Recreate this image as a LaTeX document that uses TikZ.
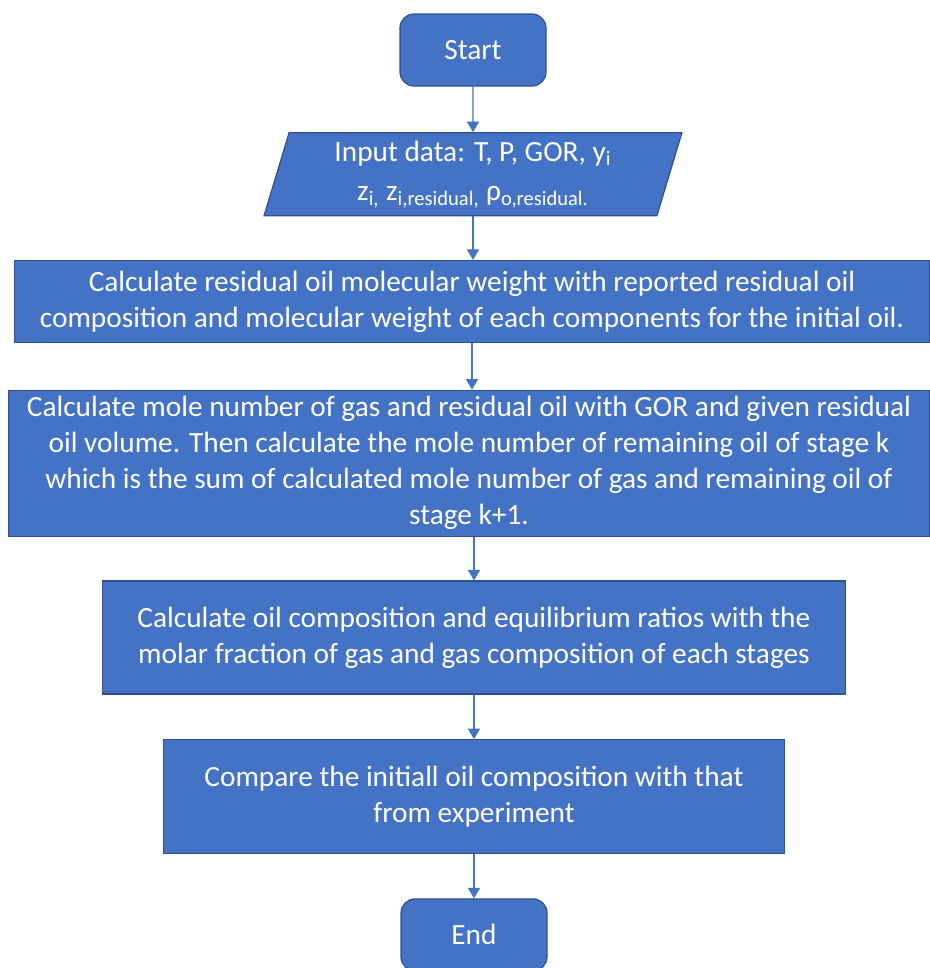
\documentclass[tikz,border=0pt]{standalone}
\usepackage{fontspec}
\setmainfont{Carlito}
\usepackage{tikz}
\usetikzlibrary{arrows.meta, positioning, shapes.geometric}
\definecolor{offblue}{HTML}{4472C4}
\definecolor{edgeblue}{HTML}{2F528F}
\tikzset{
    box/.style={rectangle, draw=edgeblue, line width=0.7pt, fill=offblue, text=white, align=center, font=\fontsize{16.7}{20.5}\selectfont},
    term/.style={box, rounded corners=0.28cm, minimum width=2.92cm, minimum height=1.44cm},
    io/.style={box, trapezium, trapezium left angle=76, trapezium right angle=104, trapezium stretches=true, minimum width=8.36cm, minimum height=1.66cm},
    flow/.style={-{Triangle[width=7pt, length=6pt]}, offblue, line width=0.6pt}
}
\begin{document}
\begin{tikzpicture}[node distance=0.9cm]
\useasboundingbox (0,0) rectangle (18.58,-19.36);

% Nodes
\node[term] (start) at (9.46,-1.0) {Start};
\node[io, below=0.91cm of start] (input) {Input data: T, P, GOR, y\textsubscript{i}\\[2pt]
  z\textsubscript{i,} z\textsubscript{i,residual,} ρ\textsubscript{o,residual.}};
\node[box, below=0.87cm of input, minimum width=18.3cm, minimum height=1.64cm, xshift=-0.02cm] (resmw)
  {Calculate residual oil molecular weight with reported residual oil\\composition and molecular weight of each components for the initial oil.};
\node[box, below=0.93cm of resmw, minimum width=18.42cm, minimum height=2.92cm, xshift=-0.06cm] (mole)
  {Calculate mole number of gas and residual oil with GOR and given residual\\oil volume. Then calculate the mole number of remaining oil of stage k\\which is the sum of calculated mole number of gas and remaining oil of\\stage k+1.};
\node[box, below=0.87cm of mole, minimum width=14.86cm, minimum height=2.26cm, xshift=0.1cm] (comp)
  {Calculate oil composition and equilibrium ratios with the\\molar fraction of gas and gas composition of each stages};
\node[box, below=0.89cm of comp, minimum width=12.42cm, minimum height=2.28cm] (check)
  {Compare the initiall oil composition with that\\from experiment};
\node[term, below=0.88cm of check] (end) {End};

% Arrows
\draw[flow] (start) -- (input);
\draw[flow] (input.south) -- (input.south |- resmw.north);
\draw[flow] (resmw.south) -- (resmw.south |- mole.north);
\draw[flow] (mole.south -| comp.north) -- (comp.north);
\draw[flow] (comp.south -| check.north) -- (check.north);
\draw[flow] (check) -- (end);
\end{tikzpicture}
\end{document}
